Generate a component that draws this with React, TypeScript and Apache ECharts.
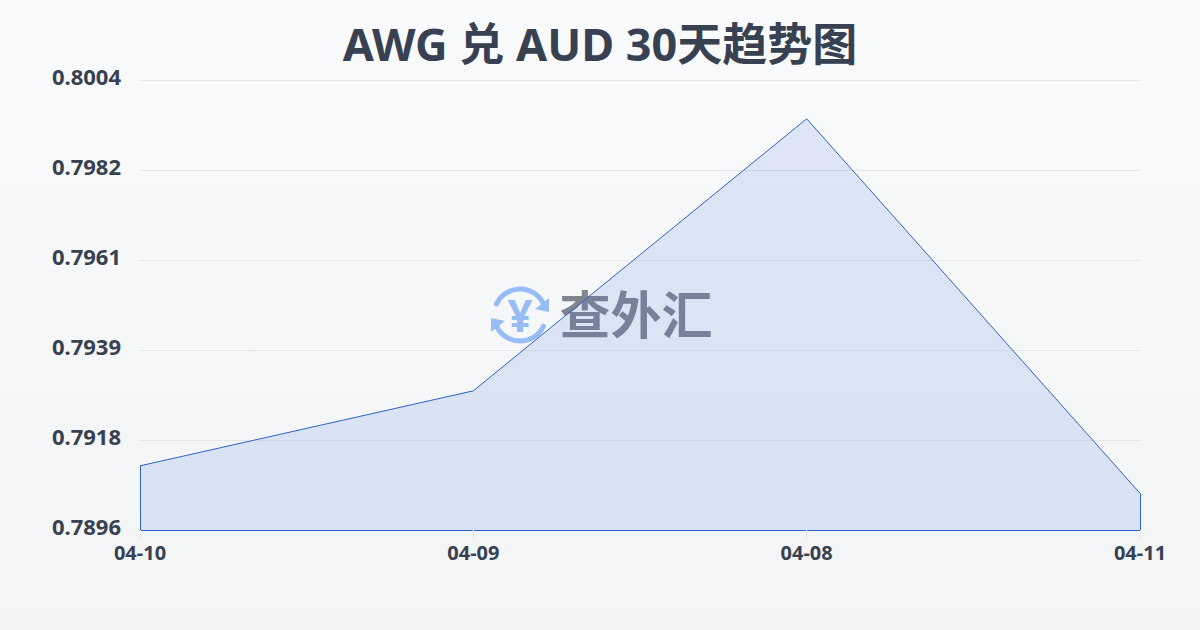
import React, { useEffect, useRef } from "react";
import * as echarts from "echarts";

const titleText = "AWG 兑 AUD 30天趋势图";
const categories = ["04-10", "04-09", "04-08", "04-11"];
const rates = [0.79114, 0.79294, 0.79947, 0.79048];
const yMin = 0.7896;
const yMax = 0.8004;
const yStep = 0.00216;
const lineColor = "#2f62c8";
const inkColor = "#374151";
const font = "'Noto Sans', 'Noto Sans CJK SC', sans-serif";

export default function App() {
  const ref = useRef<HTMLDivElement>(null);
  useEffect(() => {
    document.body.style.margin = "0";
    const chart = echarts.init(ref.current!, null, { renderer: "svg" });
    const edge = (name: string, value: number) => [
      { coord: [name, yMin] },
      { coord: [name, value] },
    ];
    chart.setOption({
      animation: false,
      backgroundColor: {
        type: "linear", x: 0, y: 0, x2: 0, y2: 1,
        colorStops: [{ offset: 0, color: "#f9fafc" }, { offset: 1, color: "#f3f4f6" }],
      },
      title: {
        text: titleText, left: "center", top: 16,
        textStyle: { color: inkColor, fontSize: 45, fontWeight: 700, fontFamily: font },
      },
      grid: { left: 140, right: 60, top: 80, bottom: 100 },
      xAxis: {
        type: "category", boundaryGap: false, data: categories,
        axisLine: { show: true, lineStyle: { color: lineColor, width: 1 } },
        axisTick: { show: true, length: 10, lineStyle: { color: "#e5e7eb" } },
        axisLabel: { color: inkColor, fontSize: 20, fontWeight: 700, fontFamily: font, margin: 12 },
        splitLine: { show: false },
      },
      yAxis: {
        type: "value", min: yMin, max: yMax, interval: yStep,
        axisLine: { show: false }, axisTick: { show: false },
        axisLabel: {
          color: inkColor, fontSize: 22, fontWeight: 700, fontFamily: font, margin: 19,
          verticalAlign: "bottom", lineHeight: 9,
          formatter: (v: number) => v.toFixed(4),
        },
        splitLine: { show: true, lineStyle: { color: "#e5e7eb", width: 1 } },
      },
      series: [{
        type: "line", data: rates, symbol: "none", smooth: false,
        lineStyle: { color: lineColor, width: 1 },
        areaStyle: { color: "rgba(59,110,220,0.2)", origin: "start" },
        markLine: {
          silent: true, symbol: "none", label: { show: false },
          lineStyle: { color: lineColor, width: 1, type: "solid" },
          data: [edge(categories[0], rates[0]), edge(categories[3], rates[3])],
        },
      }],
      graphic: [{
        type: "group", x: 0, y: 0, z: 100,
        children: [
          { type: "arc", shape: { cx: 520, cy: 315, r: 26, startAngle: -2.7, endAngle: -0.45 },
            style: { stroke: "#98bdf6", lineWidth: 5, fill: "none", lineCap: "round" } },
          { type: "arc", shape: { cx: 520, cy: 315, r: 26, startAngle: 0.45, endAngle: 2.7 },
            style: { stroke: "#98bdf6", lineWidth: 5, fill: "none", lineCap: "round" } },
          { type: "polygon", shape: { points: [[549, 298], [549, 312], [535, 309]] }, style: { fill: "#98bdf6" } },
          { type: "polygon", shape: { points: [[491, 318], [505, 321], [491, 332]] }, style: { fill: "#98bdf6" } },
          { type: "text", x: 520, y: 315, style: {
            text: "¥", fill: "#98bdf6", fontSize: 44, fontWeight: 700, fontFamily: font, align: "center", verticalAlign: "middle",
          } },
          { type: "text", x: 636, y: 312, style: {
            text: "查外汇", fill: "rgba(85,88,100,0.72)", fontSize: 51, fontWeight: 700,
            fontFamily: "'Noto Sans CJK SC', sans-serif", align: "center", verticalAlign: "middle",
          } },
        ],
      }],
    });
    return () => chart.dispose();
  }, []);
  return <div ref={ref} style={{ width: 1200, height: 630 }} />;
}
